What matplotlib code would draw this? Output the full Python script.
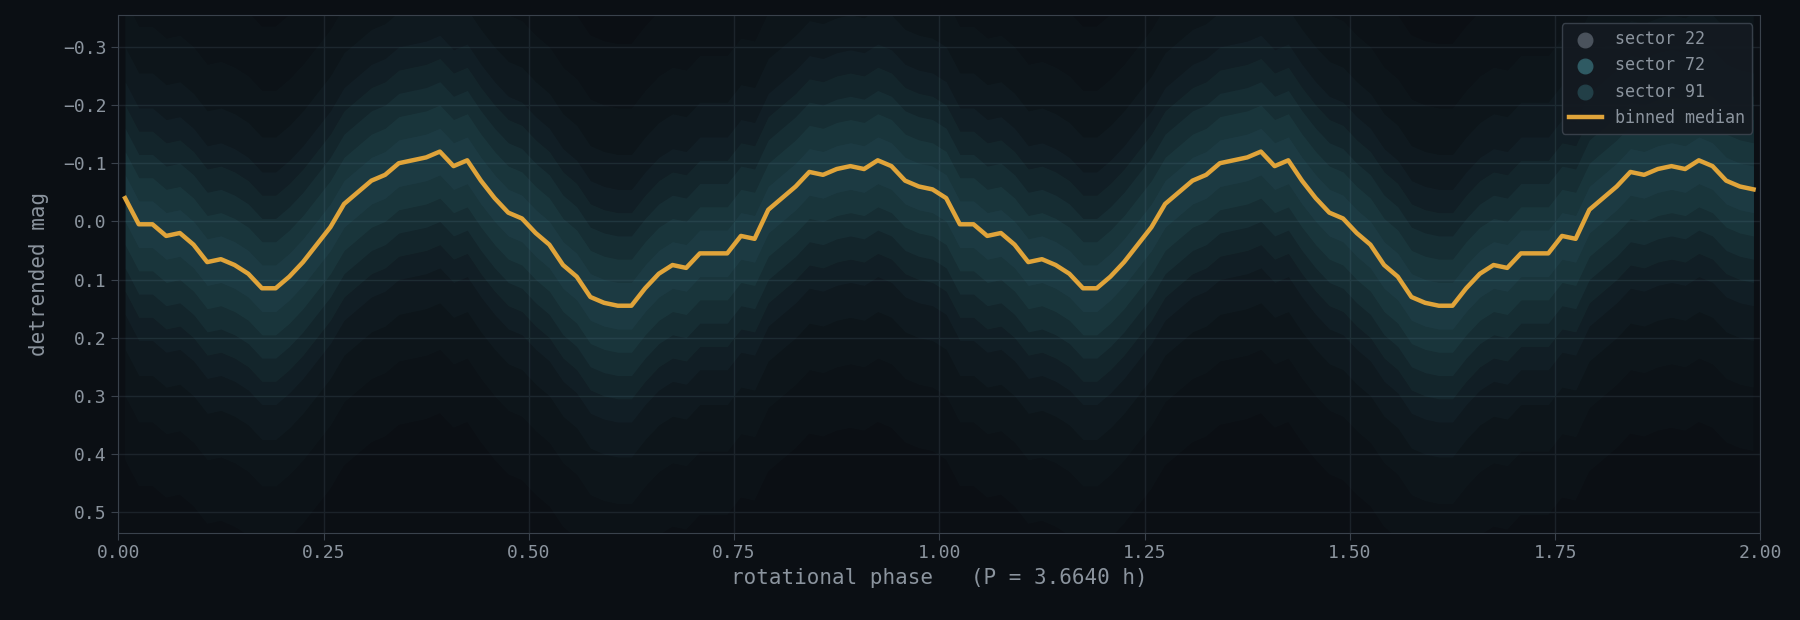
import matplotlib
matplotlib.use("Agg")
import matplotlib.pyplot as plt
import numpy as np

# binned median, 60 phase bins over one rotation
median_mag = [-0.04, 0.005, 0.005, 0.025, 0.02, 0.04, 0.07, 0.065, 0.075, 0.09,
              0.115, 0.115, 0.095, 0.07, 0.04, 0.01, -0.03, -0.05, -0.07, -0.08,
              -0.1, -0.105, -0.11, -0.12, -0.095, -0.105, -0.07, -0.04, -0.015, -0.005,
              0.02, 0.04, 0.075, 0.095, 0.13, 0.14, 0.145, 0.145, 0.115, 0.09,
              0.075, 0.08, 0.055, 0.055, 0.055, 0.025, 0.03, -0.02, -0.04, -0.06,
              -0.085, -0.08, -0.09, -0.095, -0.09, -0.105, -0.095, -0.07, -0.06, -0.055]
n_bins = 60
period_h = 3.6640

# half widths of the point cloud around the median (dense core -> sparse halo)
cloud_spread = [0.04, 0.08, 0.12, 0.16, 0.2, 0.26, 0.34, 0.45]
cloud_alpha = [0.06, 0.06, 0.06, 0.05, 0.04, 0.03, 0.025, 0.02]

sectors = ["sector 22", "sector 72", "sector 91"]
sector_colors = ["#4a525c", "#2f5a63", "#223f47"]

BG = "#0b0f14"
FG = "#8b949e"
GRID = "#1b2229"
ORANGE = "#e0a43a"
CYAN = "#4fb0bc"

plt.rcParams['font.family'] = ['DejaVu Sans Mono']

centers = (np.arange(n_bins) + 0.5) / n_bins
phase = np.concatenate([centers, centers + 1])
mag = np.array(median_mag + median_mag)

fig = plt.figure(figsize=(18, 6.2), dpi=100, facecolor=BG)
ax = fig.add_axes([0.0657, 0.141, 0.9123, 0.835], facecolor=BG)

for s, a in zip(cloud_spread, cloud_alpha):
    ax.fill_between(phase, mag - s, mag + s, color=CYAN, alpha=a, lw=0)

for lab, c in zip(sectors, sector_colors):
    ax.scatter([], [], s=110, color=c, label=lab)
ax.plot(phase, mag, color=ORANGE, lw=3.2, label="binned median", zorder=5)

ax.set_xlim(0, 2)
ax.set_ylim(0.535, -0.355)
ax.set_xticks(np.arange(0, 2.01, 0.25))
ax.set_xticklabels([f"{v:.2f}" for v in np.arange(0, 2.01, 0.25)])
yt = np.round(np.arange(-0.3, 0.51, 0.1), 1)
ax.set_yticks(yt)
ax.set_yticklabels([f"{v:.1f}".replace("-0.0", "0.0").replace("-", "\u2212") for v in yt])
ax.grid(True, color=GRID, lw=1)
ax.set_axisbelow(True)
ax.tick_params(colors=FG, labelsize=13, length=5, color="#3a424c")
for sp in ax.spines.values():
    sp.set_color("#3a424c")
ax.set_xlabel(f"rotational phase   (P = {period_h:.4f} h)", color=FG, fontsize=15)
ax.set_ylabel("detrended mag", color=FG, fontsize=15, labelpad=10)

leg = ax.legend(loc="upper right", fontsize=12, facecolor="#141a21",
                edgecolor="#3a424c", labelcolor=FG, framealpha=0.95)

fig.savefig("out.png", facecolor=BG)
